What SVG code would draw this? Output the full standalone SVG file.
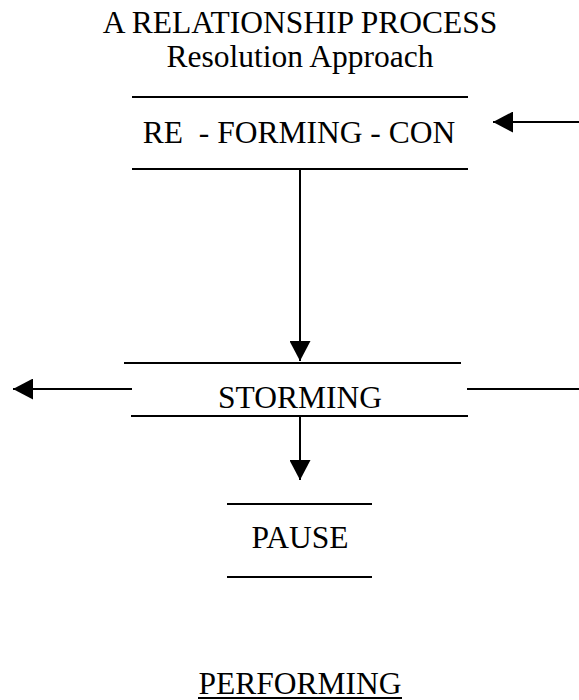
<svg xmlns="http://www.w3.org/2000/svg" width="579" height="700" viewBox="0 0 579 700">
<style>
text{font-family:'Liberation Serif','DejaVu Serif',serif;font-size:31.5px;fill:#000;text-anchor:middle;white-space:pre}
line{stroke:#000;stroke-width:2}
</style>
<defs>
<marker id="ah" markerUnits="userSpaceOnUse" markerWidth="20" markerHeight="21" refX="20" refY="10.5" orient="auto">
<path d="M0,0 L20,10.5 L0,21 Z" fill="#000"/>
</marker>
</defs>
<rect width="579" height="700" fill="#fff"/>
<g id="title">
<text x="300" y="33" font-family="Liberation Serif, serif">A RELATIONSHIP PROCESS</text>
<text x="300" y="67" font-family="Liberation Serif, serif">Resolution Approach</text>
</g>
<g id="reforming">
<line x1="132" y1="97" x2="468" y2="97"/>
<text x="299" y="143" xml:space="preserve" font-family="Liberation Serif, serif">RE  - FORMING - CON</text>
<line x1="132" y1="169" x2="468" y2="169"/>
</g>
<g id="storming">
<line x1="124" y1="363" x2="461" y2="363"/>
<text x="300" y="408" font-family="Liberation Serif, serif">STORMING</text>
<line x1="131" y1="416" x2="468" y2="416"/>
</g>
<g id="pause">
<line x1="227" y1="504" x2="372" y2="504"/>
<text x="300" y="548" font-family="Liberation Serif, serif">PAUSE</text>
<line x1="227" y1="577" x2="372" y2="577"/>
</g>
<g id="performing">
<text x="300" y="694" font-family="Liberation Serif, serif">PERFORMING</text>
<line x1="198" y1="698" x2="402" y2="698"/>
</g>
<g id="connectors">
<line x1="579" y1="122" x2="493" y2="122" marker-end="url(#ah)"/>
<line x1="300" y1="169" x2="300" y2="361" marker-end="url(#ah)"/>
<line x1="132" y1="389" x2="13" y2="389" marker-end="url(#ah)"/>
<line x1="467" y1="389" x2="579" y2="389"/>
<line x1="300" y1="416" x2="300" y2="480" marker-end="url(#ah)"/>
</g>
</svg>
